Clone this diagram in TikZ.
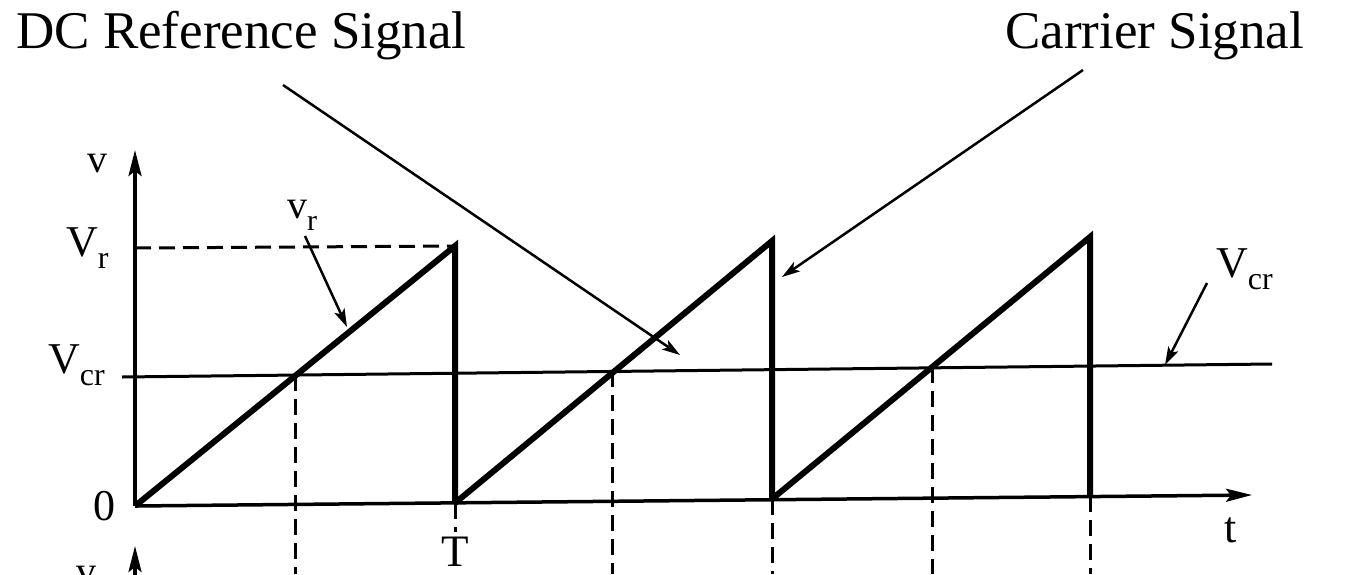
\documentclass[tikz,border=0pt]{standalone}
\usepackage{fontspec}
\setmainfont{Liberation Serif}
\usetikzlibrary{arrows.meta}
\newcommand{\fs}[1]{\fontsize{#1}{#1}\selectfont}
\newcommand{\subtxt}[2]{#1\raisebox{-0.28em}{\fs{32}#2}}
\begin{document}
\begin{tikzpicture}[x=1pt,y=-1pt,
  title/.style={inner sep=0pt,font=\fs{53}},
  lab/.style={inner sep=0pt,font=\fs{44}},
  wave/.style={line width=6pt,line join=miter,line cap=butt},
  axisline/.style={line width=3.5pt,-{Stealth[length=26pt,width=13pt,inset=5pt]}},
  levelline/.style={line width=3pt},
  dashline/.style={line width=3pt,dash pattern=on 16pt off 8pt},
  pointer/.style={line width=2.5pt,-{Stealth[length=18pt,width=11pt,inset=4pt]}}]
\useasboundingbox (0,0) rectangle (1355,574);

% titles
\node[title,anchor=base west] (dc) at (16,48) {DC Reference Signal};
\node[title,anchor=base west] (car) at (1005,48) {Carrier Signal};

% coordinates
\coordinate (O) at (135,506);
\coordinate (ytop) at (135,150);
\coordinate (ybot) at (135,580);
\coordinate (ybot2) at (135,546);
\coordinate (xend) at (1252,495);
\coordinate (P1) at (455,246);
\coordinate (B1) at (455,503);
\coordinate (P2) at (772,241);
\coordinate (B2) at (772,499);
\coordinate (P3) at (1090,237);
\coordinate (B3) at (1090,496);
\coordinate (VrL) at (135,248);
\coordinate (VcrL) at (122,377);
\coordinate (VcrR) at (1272,364);
\coordinate (I1) at (295,375);
\coordinate (I2) at (612,371);
\coordinate (I3) at (932,367);
\coordinate (I1b) at (295,574);
\coordinate (I2b) at (612,574);
\coordinate (I3b) at (932,574);
\coordinate (B1b) at (455,532);
\coordinate (B2b) at (772,574);
\coordinate (B3b) at (1090,574);

% axes
\draw[axisline] (O) -- (ytop);
\draw[axisline] (ybot) -- (ybot2);
\draw[axisline] (O) -- (xend);

% levels
\draw[dashline] (VrL) -- (P1);
\draw[levelline] (VcrL) -- (VcrR);

% dashed verticals
\draw[dashline] (I1) -- (I1b);
\draw[dashline] (I2) -- (I2b);
\draw[dashline] (I3) -- (I3b);
\draw[dashline] (B1) -- (B1b);
\draw[dashline] (B2) -- (B2b);
\draw[dashline] (B3) -- (B3b);

% carrier sawtooth
\draw[wave] (O) -- (P1) -- (B1);
\draw[wave] (B1) -- (P2) -- (B2);
\draw[wave] (B2) -- (P3) -- (B3);

% axis labels
\node[lab,font=\fs{40}] (v) at (97,164) {v};
\node[lab,font=\fs{40}] (vb) at (86,576) {v};
\node[lab,anchor=base west] (Vr) at (66,256) {\subtxt{V}{r}};
\node[lab,anchor=base west] (Vcr) at (48,373) {\subtxt{V}{cr}};
\node[lab,anchor=base] (zero) at (104,520) {0};
\node[lab,anchor=base,font=\fs{45}] (T) at (455,566) {T};
\node[lab,anchor=base] (t) at (1231,542) {t};
\node[lab,anchor=base west,font=\fs{40}] (vr) at (287,218) {v\raisebox{-0.3em}{\fs{30}r}};
\node[lab,anchor=base west] (Vcr2) at (1216,277) {\subtxt{V}{cr}};

% pointers
\coordinate (dcs) at (283,85);
\coordinate (dct) at (680,355);
\coordinate (cas) at (1083,70);
\coordinate (cat) at (782,277);
\coordinate (vcs) at (1207,283);
\coordinate (vct) at (1165,365);
\coordinate (vrs) at (305,236);
\coordinate (vrt) at (347,327);
\draw[pointer] (dcs) -- (dct);
\draw[pointer] (cas) -- (cat);
\draw[pointer] (vcs) -- (vct);
\draw[pointer] (vrs) -- (vrt);
\end{tikzpicture}
\end{document}
